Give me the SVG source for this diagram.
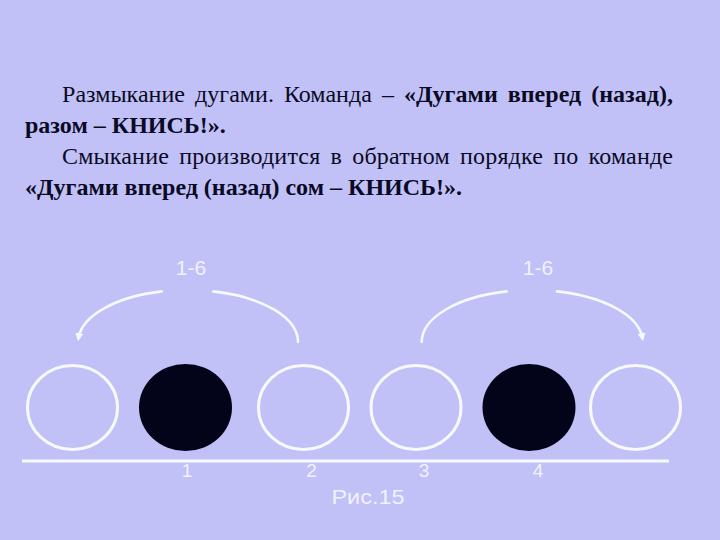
<svg xmlns="http://www.w3.org/2000/svg" width="720" height="540" viewBox="0 0 720 540">
<defs>
<style>
.t{font-family:"Liberation Serif","Times New Roman",serif;font-size:24px;fill:#0a0a24}
.b{font-weight:bold}
.lbl{font-family:"Liberation Sans",Arial,sans-serif;fill:#f2f2ff}
.ring{fill:none;stroke:#f8f8ff;stroke-width:3}
.dot{fill:#03031a;stroke:none}
.arc{fill:none;stroke:#f8f8ff;stroke-width:2.6;stroke-linecap:round}
</style>
<marker id="ah" viewBox="0 0 10 10" refX="6" refY="5" markerWidth="8" markerHeight="8" markerUnits="userSpaceOnUse" orient="auto">
<path d="M0,0 L10,5 L0,10 z" fill="#f8f8ff"/>
</marker>
</defs>
<rect width="720" height="540" fill="#c1c0f7"/>
<g id="text">
<text class="t" x="62" y="102" textLength="611" lengthAdjust="spacing" word-spacing="4">Размыкание дугами. Команда – <tspan class="b">«Дугами вперед (назад),</tspan></text>
<text class="t b" x="25" y="133">разом – КНИСЬ!».</text>
<text class="t" x="62" y="164" textLength="611" lengthAdjust="spacing" word-spacing="4">Смыкание производится в обратном порядке по команде</text>
<text class="t b" x="25" y="195">«Дугами вперед (назад) сом – КНИСЬ!».</text>
</g>
<g id="connectors">
<path class="arc" d="M298,342 A110,52 0 0 0 213.3,291.4"/>
<path class="arc" d="M161.7,291.4 A110,52 0 0 0 78.5,338" marker-end="url(#ah)"/>
<path class="arc" d="M421.7,342 A110.5,52 0 0 1 506.7,291.4"/>
<path class="arc" d="M557,291.4 A110.5,52 0 0 1 642.4,338" marker-end="url(#ah)"/>
</g>
<g id="labels">
<text class="lbl" x="191" y="275" font-size="21" text-anchor="middle">1-6</text>
<text class="lbl" x="538" y="275" font-size="21" text-anchor="middle">1-6</text>
</g>
<g id="n1"><ellipse class="ring" cx="72.5" cy="407.5" rx="45" ry="42"/></g>
<g id="n2"><ellipse class="dot" cx="185.5" cy="407.5" rx="46.5" ry="43.5"/></g>
<g id="n3"><ellipse class="ring" cx="303.5" cy="407.5" rx="45" ry="42"/></g>
<g id="n4"><ellipse class="ring" cx="416" cy="407.5" rx="45" ry="42"/></g>
<g id="n5"><ellipse class="dot" cx="529" cy="407.5" rx="46.5" ry="43.5"/></g>
<g id="n6"><ellipse class="ring" cx="635.5" cy="407.5" rx="45" ry="42"/></g>
<g id="baseline">
<line x1="22" y1="461" x2="669" y2="461" stroke="#f8f8ff" stroke-width="3"/>
<text class="lbl" x="187" y="477" font-size="19" text-anchor="middle">1</text>
<text class="lbl" x="311.5" y="477" font-size="19" text-anchor="middle">2</text>
<text class="lbl" x="424" y="477" font-size="19" text-anchor="middle">3</text>
<text class="lbl" x="538" y="477" font-size="19" text-anchor="middle">4</text>
<text class="lbl" x="368" y="504" font-size="20" text-anchor="middle" textLength="73" lengthAdjust="spacingAndGlyphs">Рис.15</text>
</g>
</svg>
